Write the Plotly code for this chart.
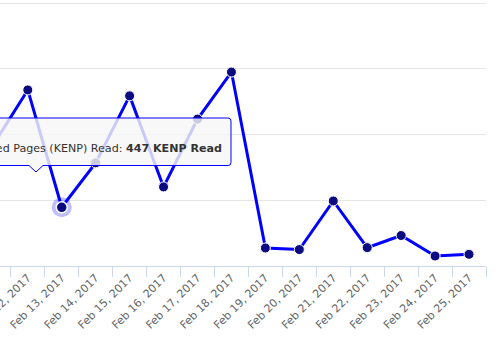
import plotly.graph_objects as go

categories = ["Feb 11, 2017", "Feb 12, 2017", "Feb 13, 2017", "Feb 14, 2017", "Feb 15, 2017",
              "Feb 16, 2017", "Feb 17, 2017", "Feb 18, 2017", "Feb 19, 2017", "Feb 20, 2017",
              "Feb 21, 2017", "Feb 22, 2017", "Feb 23, 2017", "Feb 24, 2017", "Feb 25, 2017"]
kenp_read = [930, 1340, 447, 785, 1295, 602, 1118, 1476, 137, 125, 495, 140, 232, 76, 89]
hover_index = 2
series_name = "Kindle Edition Normalized Pages (KENP) Read"

W, H = 496, 351
ML, MR, MT, MB = 0, 10, 1, 85
PW, PH = W - ML - MR, H - MT - MB

def px(x):
    return (x - ML) / PW

def py(y):
    return (H - MB - y) / PH

fig = go.Figure()
fig.add_trace(go.Scatter(
    x=categories, y=kenp_read, mode="lines+markers",
    line=dict(color="#0000ff", width=3),
    marker=dict(size=10, color="#0c0c80", line=dict(color="#ffffff", width=1)),
    name=series_name, showlegend=False, hoverinfo="skip"))
# hover halo
fig.add_trace(go.Scatter(
    x=[categories[hover_index]], y=[kenp_read[hover_index]], mode="markers",
    marker=dict(size=20, color="rgba(0,0,255,0.25)"), showlegend=False, hoverinfo="skip"))
fig.add_trace(go.Scatter(
    x=[categories[hover_index]], y=[kenp_read[hover_index]], mode="markers",
    marker=dict(size=11, color="#0c0c80", line=dict(color="#ffffff", width=1.5)),
    showlegend=False, hoverinfo="skip"))

# tooltip box with pointer (pixel coords -> paper)
L, R, T, B = -60, 231, 118, 165.5
tipx, tipy, hw = 36, 172, 7
r = 3
pts = [
    f"M {px(L)} {py(T)}",
    f"L {px(R - r)} {py(T)}",
    f"Q {px(R)} {py(T)} {px(R)} {py(T + r)}",
    f"L {px(R)} {py(B - r)}",
    f"Q {px(R)} {py(B)} {px(R - r)} {py(B)}",
    f"L {px(tipx + hw)} {py(B)}",
    f"L {px(tipx)} {py(tipy)}",
    f"L {px(tipx - hw)} {py(B)}",
    f"L {px(L)} {py(B)}",
    "Z",
]
fig.add_shape(type="path", xref="paper", yref="paper", path=" ".join(pts),
              fillcolor="rgba(247,247,247,0.82)", line=dict(color="#0000ff", width=1))
fig.add_annotation(
    xref="paper", yref="paper", x=px(224), y=py(148), xanchor="right", yanchor="middle",
    text=f"{series_name}: <b>{kenp_read[hover_index]} KENP Read</b>",
    showarrow=False, font=dict(family="DejaVu Sans", size=11.1, color="#333333"))

fig.update_layout(
    width=W, height=H, margin=dict(l=ML, r=MR, t=MT, b=MB, autoexpand=False),
    paper_bgcolor="#ffffff", plot_bgcolor="#ffffff",
    font=dict(family="DejaVu Sans", size=11, color="#666666"),
    xaxis=dict(type="category", range=[0.181, 14.5], tickson="boundaries", automargin=False,
               ticks="outside", ticklen=10, tickcolor="#ccd6eb", tickwidth=1,
               showline=True, linecolor="#ccd6eb", linewidth=1, showgrid=False,
               tickangle=-45, tickfont=dict(size=11, color="#666666"), zeroline=False),
    yaxis=dict(range=[0, 2017], dtick=500, showgrid=True, gridcolor="#e6e6e6", gridwidth=1,
               showticklabels=False, zeroline=False, showline=False, automargin=False),
)

fig.write_html("out.html")
